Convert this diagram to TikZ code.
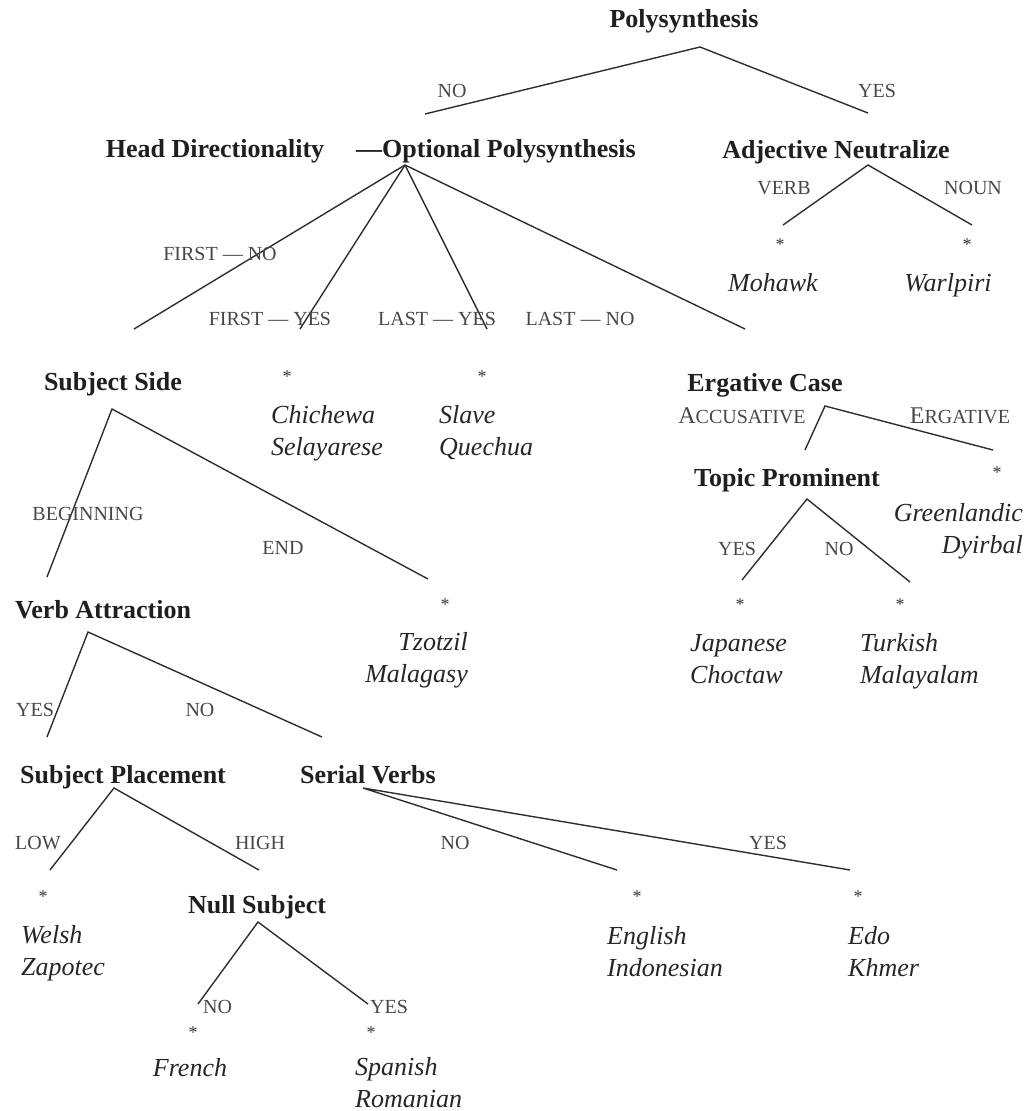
\documentclass[tikz,border=0pt]{standalone}
\usepackage{fontspec}
\setmainfont{Liberation Serif}
\newcommand{\fakesc}[2]{{\fontsize{24}{24}\selectfont #1}{\fontsize{20}{24}\selectfont #2}}
\begin{document}
\begin{tikzpicture}[x=1pt,y=-1pt,
  param/.style={font=\fontsize{26}{31}\selectfont\bfseries, text=black!88, inner sep=0pt, anchor=base},
  lab/.style={font=\fontsize{20}{24}\selectfont, text=black!72, inner sep=0pt, anchor=base},
  % multi-line lists: the base anchor sits on the last line
  lang/.style={font=\fontsize{26}{32}\selectfont\itshape, text=black!85, inner sep=0pt, align=left, anchor=base west},
  langr/.style={lang, align=right, anchor=base east},
  starmk/.style={font=\fontsize{18}{22}\selectfont, text=black!80, inner sep=0pt},
  conn/.style={line width=1.4pt, draw=black!82}]
\useasboundingbox (0,0) rectangle (1033,1111);

% ---- parameter names
\node[param] (poly)  at (684,27)  {Polysynthesis};
\node[param] (head)  at (215,157) {Head Directionality};
\node[param, anchor=base west] (opt) at (356,157) {—Optional Polysynthesis};
\node[param] (adj)   at (836,158) {Adjective Neutralize};
\node[param] (sside) at (113,390) {Subject Side};
\node[param] (erg)   at (765,391) {Ergative Case};
\node[param] (topic) at (787,486) {Topic Prominent};
\node[param] (verb)  at (103,618) {Verb Attraction};
\node[param] (splace) at (123,783) {Subject Placement};
\node[param] (serial) at (368,783) {Serial Verbs};
\node[param] (null)  at (257,913) {Null Subject};

% ---- branch points and branch ends
\coordinate (polyA) at (700,47);
\coordinate (polyL) at (425,114);
\coordinate (polyR) at (868,113);
\coordinate (optA) at (405,165);
\coordinate (optE1) at (134,329);
\coordinate (optE2) at (300,329);
\coordinate (optE3) at (487,329);
\coordinate (optE4) at (745,329);
\coordinate (adjA) at (868,165);
\coordinate (adjL) at (783,225);
\coordinate (adjR) at (972,225);
\coordinate (ssA) at (112,409);
\coordinate (ssL) at (47,577);
\coordinate (ssR) at (428,579);
\coordinate (ergA) at (825,406);
\coordinate (ergL) at (805,450);
\coordinate (ergR) at (993,450);
\coordinate (topA) at (807,499);
\coordinate (topL) at (742,580);
\coordinate (topR) at (910,582);
\coordinate (vaA) at (88,632);
\coordinate (vaL) at (47,737);
\coordinate (vaR) at (322,737);
\coordinate (spA) at (114,788);
\coordinate (spL) at (50,870);
\coordinate (spR) at (259,870);
\coordinate (svA) at (363,788);
\coordinate (svL) at (617,870);
\coordinate (svR) at (850,870);
\coordinate (nsA) at (258,922);
\coordinate (nsL) at (198,1004);
\coordinate (nsR) at (368,1004);

% ---- connectors
\draw[conn] (polyL) -- (polyA) -- (polyR);
\draw[conn] (optA) -- (optE1);
\draw[conn] (optA) -- (optE2);
\draw[conn] (optA) -- (optE3);
\draw[conn] (optA) -- (optE4);
\draw[conn] (adjL) -- (adjA) -- (adjR);
\draw[conn] (ssL) -- (ssA) -- (ssR);
\draw[conn] (ergL) -- (ergA) -- (ergR);
\draw[conn] (topL) -- (topA) -- (topR);
\draw[conn] (vaL) -- (vaA) -- (vaR);
\draw[conn] (spL) -- (spA) -- (spR);
\draw[conn] (svL) -- (svA) -- (svR);
\draw[conn] (nsL) -- (nsA) -- (nsR);

% ---- branch labels
\node[lab] (lNo1)  at (452,97)  {NO};
\node[lab] (lYes1) at (877,97)  {YES};
\node[lab] (lVerb) at (784,194) {VERB};
\node[lab] (lNoun) at (973,194) {NOUN};
\node[lab] (lFN)   at (220,260) {FIRST — NO};
\node[lab] (lFY)   at (270,325) {FIRST — YES};
\node[lab] (lLY)   at (437,325) {LAST — YES};
\node[lab] (lLN)   at (580,325) {LAST — NO};
\node[lab] (lAcc)  at (742,423) {\fakesc{A}{CCUSATIVE}};
\node[lab] (lErg)  at (960,423) {\fakesc{E}{RGATIVE}};
\node[lab] (lYes2) at (737,555) {YES};
\node[lab] (lNo2)  at (839,555) {NO};
\node[lab] (lBeg)  at (88,520)  {BEGINNING};
\node[lab] (lEnd)  at (283,554) {END};
\node[lab] (lYes3) at (35,716)  {YES};
\node[lab] (lNo3)  at (200,716) {NO};
\node[lab] (lLow)  at (38,849)  {LOW};
\node[lab] (lHigh) at (260,849) {HIGH};
\node[lab] (lNo4)  at (455,849) {NO};
\node[lab] (lYes4) at (768,849) {YES};
\node[lab, anchor=base west] (lNo5)  at (203,1013) {NO};
\node[lab, anchor=base west] (lYes5) at (370,1013) {YES};

% ---- languages
\node[starmk] (s1) at (780,245) {*};
\node[lang, anchor=base] (mohawk) at (773,291) {Mohawk};
\node[starmk] (s2) at (967,245) {*};
\node[lang, anchor=base] (warl) at (948,291) {Warlpiri};
\node[starmk] (s3) at (287,377) {*};
\node[lang] (chich) at (271,455) {Chichewa\\Selayarese};
\node[starmk] (s4) at (482,377) {*};
\node[lang] (slave) at (439,455) {Slave\\Quechua};
\node[starmk] (s5) at (997,473) {*};
\node[langr] (green) at (1023,553) {Greenlandic\\Dyirbal};
\node[starmk] (s6) at (740,605) {*};
\node[lang] (jap) at (690,683) {Japanese\\Choctaw};
\node[starmk] (s7) at (900,605) {*};
\node[lang] (turk) at (860,683) {Turkish\\Malayalam};
\node[starmk] (s8) at (445,605) {*};
\node[langr] (tzot) at (468,682) {Tzotzil\\Malagasy};
\node[starmk] (s9) at (43,897) {*};
\node[lang] (welsh) at (21,975) {Welsh\\Zapotec};
\node[starmk] (s10) at (637,897) {*};
\node[lang] (engl) at (607,976) {English\\Indonesian};
\node[starmk] (s11) at (858,897) {*};
\node[lang] (edo) at (848,976) {Edo\\Khmer};
\node[starmk] (s12) at (193,1033) {*};
\node[lang, anchor=base] (french) at (190,1076) {French};
\node[starmk] (s13) at (371,1033) {*};
\node[lang] (span) at (355,1107) {Spanish\\Romanian};
\end{tikzpicture}
\end{document}
